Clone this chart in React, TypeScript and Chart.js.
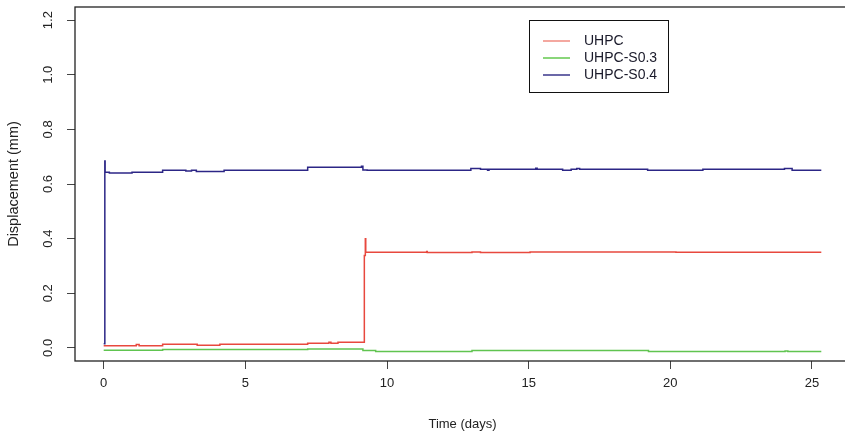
import React, { useEffect, useRef } from "react";
import { Chart, registerables } from "chart.js";

Chart.register(...registerables);

// ---- Data (time in days, displacement in mm); each point starts a new step level ----
const seriesNames = ["UHPC", "UHPC-S0.3", "UHPC-S0.4"];

const uhpcTime = [0, 1.15, 1.25, 2.08, 3.3, 4.1, 7.2, 7.95, 8.02, 8.27, 9.2, 9.235, 9.25, 11.4, 11.42, 13.0, 13.3, 15.05, 20.2, 25.33];
const uhpcDisp = [0.008, 0.012, 0.008, 0.013, 0.010, 0.013, 0.017, 0.021, 0.017, 0.021, 0.338, 0.400, 0.350, 0.353, 0.349, 0.351, 0.349, 0.351, 0.350, 0.350];

const s03Time = [0, 2.08, 7.2, 9.15, 9.6, 13.0, 19.23, 24.05, 24.15, 25.33];
const s03Disp = [-0.009, -0.006, -0.004, -0.010, -0.013, -0.010, -0.013, -0.011, -0.013, -0.013];

const s04Time = [0, 0.04, 0.05, 0.2, 1.0, 2.08, 2.9, 3.1, 3.27, 4.25, 7.2, 9.1, 9.15, 9.3, 12.96, 13.3, 13.55, 13.6, 15.25, 15.3, 16.2, 16.5, 16.7, 16.8, 19.2, 21.15, 24.03, 24.3, 25.33];
const s04Disp = [0.015, 0.684, 0.643, 0.640, 0.643, 0.650, 0.648, 0.650, 0.646, 0.650, 0.661, 0.665, 0.651, 0.650, 0.657, 0.654, 0.650, 0.654, 0.658, 0.654, 0.650, 0.654, 0.657, 0.654, 0.650, 0.654, 0.657, 0.650, 0.650];

const xTicks = [0, 5, 10, 15, 20, 25];
const yTicks = [0, 0.2, 0.4, 0.6, 0.8, 1.0, 1.2];

const lineColors = ["rgb(232,72,62)", "rgb(96,196,80)", "rgb(44,38,134)"];
const legendColors = ["#F4A8A0", "#8AD67A", "#6B68A8"];

const toPoints = (t: number[], v: number[]) => t.map((x, i) => ({ x, y: v[i] }));

const FONT = "'Liberation Sans', Arial, Helvetica, sans-serif";

const boxPlugin = {
  id: "rbox",
  afterDraw(chart: any) {
    const { ctx, chartArea } = chart;
    ctx.save();
    ctx.strokeStyle = "#222";
    ctx.lineWidth = 1.3;
    ctx.strokeRect(chartArea.left, chartArea.top, chartArea.right - chartArea.left, chartArea.bottom - chartArea.top);

    // legend (R style box at top-right)
    const lx = 529, ly = 20, lw = 139, lh = 72;
    ctx.fillStyle = "#fff";
    ctx.fillRect(lx, ly, lw, lh);
    ctx.strokeStyle = "#111";
    ctx.lineWidth = 1;
    ctx.strokeRect(lx + 0.5, ly + 0.5, lw, lh);
    ctx.font = `14px ${FONT}`;
    ctx.textBaseline = "middle";
    ctx.textAlign = "left";
    seriesNames.forEach((name, i) => {
      const y = 41 + i * 17;
      ctx.strokeStyle = legendColors[i];
      ctx.lineWidth = 2;
      ctx.beginPath();
      ctx.moveTo(543, y);
      ctx.lineTo(570, y);
      ctx.stroke();
      ctx.fillStyle = "#1a1a2a";
      ctx.fillText(name, 584, y);
    });
    ctx.restore();
  },
};

export default function App() {
  const ref = useRef<HTMLCanvasElement | null>(null);

  useEffect(() => {
    if (!ref.current) return;
    const chart = new Chart(ref.current, {
      type: "line",
      data: {
        datasets: [
          { label: seriesNames[0], data: toPoints(uhpcTime, uhpcDisp), borderColor: lineColors[0] },
          { label: seriesNames[1], data: toPoints(s03Time, s03Disp), borderColor: lineColors[1] },
          { label: seriesNames[2], data: toPoints(s04Time, s04Disp), borderColor: lineColors[2] },
        ].map((d) => ({
          ...d,
          stepped: "before" as const,
          pointRadius: 0,
          borderWidth: 1.5,
          fill: false,
        })),
      },
      options: {
        animation: false,
        responsive: true,
        maintainAspectRatio: false,
        layout: { padding: { top: 7, right: 10, left: 0, bottom: 0 } },
        plugins: { legend: { display: false }, tooltip: { enabled: false } },
        scales: {
          x: {
            type: "linear",
            min: -1.013,
            max: 26.343,
            afterBuildTicks: (s: any) => {
              s.ticks = xTicks.map((v) => ({ value: v }));
            },
            afterFit: (s: any) => {
              s.height = 75;
              s.paddingLeft = 0;
              s.paddingRight = 0;
            },
            grid: { drawOnChartArea: false, drawTicks: true, tickLength: 8, color: "#444" },
            border: { display: false },
            ticks: {
              padding: 7,
              color: "#222",
              font: { family: FONT, size: 13 },
              maxRotation: 0,
              minRotation: 0,
              callback: (v: any) => String(v),
            },
            title: {
              display: true,
              text: "Time (days)",
              color: "#222",
              font: { family: FONT, size: 13 },
              padding: { top: 0, bottom: 4 },
            },
          },
          y: {
            type: "linear",
            min: -0.048,
            max: 1.248,
            afterBuildTicks: (s: any) => {
              s.ticks = yTicks.map((v) => ({ value: v }));
            },
            afterFit: (s: any) => {
              s.width = 75;
              s.paddingTop = 0;
              s.paddingBottom = 0;
            },
            grid: { drawOnChartArea: false, drawTicks: true, tickLength: 8, color: "#444" },
            border: { display: false },
            ticks: {
              padding: 10,
              color: "#222",
              crossAlign: "center",
              minRotation: 90,
              maxRotation: 90,
              font: { family: FONT, size: 13 },
              callback: (v: any) => Number(v).toFixed(1),
            },
            title: {
              display: true,
              text: "Displacement (mm)",
              color: "#222",
              font: { family: FONT, size: 14.5 },
              padding: { top: 5, bottom: 0 },
            },
          },
        },
      },
      plugins: [boxPlugin],
    });
    return () => chart.destroy();
  }, []);

  return (
    <div style={{ position: "fixed", left: 0, top: 0, width: 860, height: 436, background: "#fff" }}>
      <canvas ref={ref} />
    </div>
  );
}
